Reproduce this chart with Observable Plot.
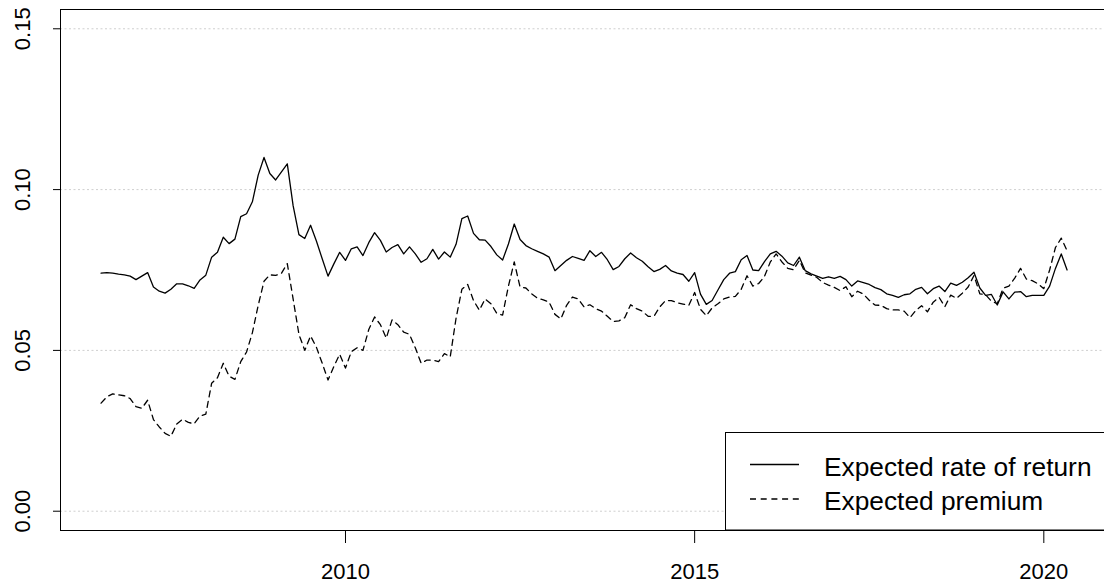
<!DOCTYPE html>
<html>
<head>
<meta charset="utf-8">
<script src="https://cdn.jsdelivr.net/npm/d3@7"></script>
<script src="https://cdn.jsdelivr.net/npm/@observablehq/plot@0.6"></script>
<style>
  html, body { margin: 0; padding: 0; background: #fff; overflow: hidden; }
  #chart { width: 1104px; height: 585px; }
  svg { font-family: "Liberation Sans", Arial, sans-serif; }
</style>
</head>
<body>
<div id="chart"></div>
<script>
// Monthly series, first observation July 2006 (decimal time 2006 + 6/12)
const startYear = 2006;
const startMonth = 7;

const expectedReturn = [
  0.0740, 0.0742, 0.0740, 0.0737, 0.0735, 0.0731, 0.0720, 0.0731, 0.0742, 0.0697, 0.0684, 0.0678,
  0.0690, 0.0707, 0.0707, 0.0701, 0.0693, 0.0719, 0.0734, 0.0790, 0.0805, 0.0852, 0.0832, 0.0846,
  0.0916, 0.0925, 0.0962, 0.1045, 0.1100, 0.1050, 0.1030, 0.1055, 0.1080, 0.0950, 0.0860, 0.0848,
  0.0889, 0.0840, 0.0785, 0.0731, 0.0769, 0.0805, 0.0780, 0.0816, 0.0822, 0.0795, 0.0835, 0.0866,
  0.0842, 0.0806, 0.0820, 0.0829, 0.0800, 0.0822, 0.0800, 0.0774, 0.0785, 0.0814, 0.0784, 0.0806,
  0.0790, 0.0830, 0.0910, 0.0918, 0.0864, 0.0844, 0.0843, 0.0823, 0.0797, 0.0781, 0.0831, 0.0893,
  0.0845, 0.0826, 0.0816, 0.0808, 0.0800, 0.0790, 0.0748, 0.0764, 0.0780, 0.0792, 0.0786, 0.0780,
  0.0810, 0.0792, 0.0805, 0.0782, 0.0751, 0.0761, 0.0785, 0.0803, 0.0788, 0.0777, 0.0760, 0.0745,
  0.0752, 0.0764, 0.0747, 0.0740, 0.0736, 0.0715, 0.0742, 0.0675, 0.0643, 0.0655, 0.0688, 0.0720,
  0.0740, 0.0745, 0.0782, 0.0795, 0.0750, 0.0748, 0.0776, 0.0800, 0.0808, 0.0793, 0.0772, 0.0764,
  0.0790, 0.0748, 0.0738, 0.0731, 0.0724, 0.0729, 0.0724, 0.0730, 0.0720, 0.0700, 0.0716, 0.0711,
  0.0705, 0.0695, 0.0689, 0.0676, 0.0671, 0.0665, 0.0673, 0.0676, 0.0690, 0.0696, 0.0676, 0.0692,
  0.0700, 0.0683, 0.0709, 0.0702, 0.0712, 0.0726, 0.0743, 0.0694, 0.0671, 0.0674, 0.0641, 0.0682,
  0.0660, 0.0681, 0.0683, 0.0667, 0.0671, 0.0671, 0.0671, 0.0700, 0.0755, 0.0800, 0.0750
];

const expectedPremium = [
  0.0336, 0.0356, 0.0365, 0.0362, 0.0359, 0.0350, 0.0325, 0.0320, 0.0345, 0.0285, 0.0262, 0.0242,
  0.0233, 0.0271, 0.0286, 0.0276, 0.0272, 0.0296, 0.0302, 0.0398, 0.0415, 0.0460, 0.0420, 0.0410,
  0.0465, 0.0495, 0.0555, 0.0640, 0.0715, 0.0735, 0.0733, 0.0740, 0.0770, 0.0660, 0.0550, 0.0500,
  0.0545, 0.0510, 0.0460, 0.0408, 0.0450, 0.0488, 0.0445, 0.0496, 0.0508, 0.0500, 0.0565, 0.0604,
  0.0580, 0.0538, 0.0595, 0.0580, 0.0557, 0.0550, 0.0508, 0.0460, 0.0470, 0.0470, 0.0465, 0.0490,
  0.0480, 0.0600, 0.0690, 0.0705, 0.0655, 0.0625, 0.0660, 0.0645, 0.0615, 0.0610, 0.0700, 0.0775,
  0.0697, 0.0694, 0.0676, 0.0662, 0.0657, 0.0650, 0.0612, 0.0598, 0.0640, 0.0666, 0.0660, 0.0635,
  0.0642, 0.0630, 0.0622, 0.0606, 0.0590, 0.0592, 0.0602, 0.0642, 0.0630, 0.0622, 0.0606, 0.0606,
  0.0635, 0.0655, 0.0655, 0.0648, 0.0644, 0.0640, 0.0680, 0.0628, 0.0608, 0.0632, 0.0645, 0.0660,
  0.0666, 0.0668, 0.0690, 0.0732, 0.0700, 0.0708, 0.0730, 0.0775, 0.0800, 0.0775, 0.0755, 0.0751,
  0.0780, 0.0741, 0.0734, 0.0727, 0.0711, 0.0703, 0.0696, 0.0686, 0.0698, 0.0667, 0.0684, 0.0675,
  0.0656, 0.0641, 0.0640, 0.0630, 0.0626, 0.0626, 0.0622, 0.0602, 0.0624, 0.0639, 0.0620, 0.0650,
  0.0665, 0.0636, 0.0672, 0.0662, 0.0678, 0.0697, 0.0733, 0.0676, 0.0673, 0.0653, 0.0645, 0.0693,
  0.0700, 0.0725, 0.0755, 0.0722, 0.0717, 0.0707, 0.0692, 0.0750, 0.0820, 0.0849, 0.0810
];

const xTicks = [2010, 2015, 2020];
const yTicks = [0.00, 0.05, 0.10, 0.15];
const seriesLabels = ["Expected rate of return", "Expected premium"];

// decimal time like R's ts: year + (month - 1) / 12
const timeOf = i => startYear + (startMonth - 1 + i) / 12;
const returnData = expectedReturn.map((v, i) => ({t: timeOf(i), v}));
const premiumData = expectedPremium.map((v, i) => ({t: timeOf(i), v}));

const xDomain = [2005.919, 2020.869];
const yDomain = [-0.006, 0.156];

const W = 1104, H = 585;
const mL = 60, mR = 0, mT = 9, mB = 55;

const chart = Plot.plot({
  width: W,
  height: H,
  marginLeft: mL,
  marginRight: mR,
  marginTop: mT,
  marginBottom: mB,
  style: {fontFamily: "'Liberation Sans', Arial, sans-serif", color: "#000", background: "#fff"},
  x: {domain: xDomain, axis: null, label: null},
  y: {domain: yDomain, axis: null, label: null},
  marks: [
    Plot.ruleY(yTicks, {stroke: "#cfcfcf", strokeWidth: 1, strokeDasharray: "2,2.5"}),
    Plot.line(returnData, {x: "t", y: "v", stroke: "#000", strokeWidth: 1.3}),
    Plot.line(premiumData, {x: "t", y: "v", stroke: "#000", strokeWidth: 1.3, strokeDasharray: "6,4.7"}),
    Plot.ruleY([yDomain[1]], {stroke: "#000", strokeWidth: 1}),
    Plot.ruleY([yDomain[0]], {stroke: "#000", strokeWidth: 1}),
    Plot.ruleX([xDomain[0]], {stroke: "#000", strokeWidth: 1}),
    Plot.axisY({ticks: yTicks, tickSize: 7, tickFormat: () => "", label: null, stroke: "#000"}),
    Plot.text(yTicks, {
      y: d => d, frameAnchor: "left", dx: -30.5, rotate: -90,
      text: d => d.toFixed(2), textAnchor: "middle", lineAnchor: "bottom",
      fontSize: 22, fill: "#000"
    }),
    Plot.axisX({ticks: xTicks, tickSize: 13, tickPadding: 20, fontSize: 22, label: null, tickFormat: d => String(d), stroke: "#000", fill: "#000"})
  ]
});

document.getElementById("chart").appendChild(chart);

// Legend (bottom-right, overlapping the frame like R's legend("bottomright"))
const svg = d3.select(chart);
const lg = svg.append("g").attr("class", "legend").attr("text-anchor", "start");
lg.append("rect")
  .attr("x", 725.5).attr("y", 432.5)
  .attr("width", 400).attr("height", 97.5)
  .attr("fill", "#fff").attr("stroke", "#000").attr("stroke-width", 1);
const items = [
  {label: seriesLabels[0], dash: null, ly: 464.5, ty: 475.5},
  {label: seriesLabels[1], dash: "6,4.7", ly: 499, ty: 509.5}
];
items.forEach(it => {
  const ln = lg.append("line")
    .attr("x1", 750).attr("x2", 799)
    .attr("y1", it.ly).attr("y2", it.ly)
    .attr("stroke", "#000").attr("stroke-width", 1.3);
  if (it.dash) ln.attr("stroke-dasharray", it.dash);
  lg.append("text")
    .attr("x", 824).attr("y", it.ty)
    .attr("text-anchor", "start")
    .attr("font-size", 26.3)
    .attr("fill", "#000")
    .text(it.label);
});
</script>
</body>
</html>
